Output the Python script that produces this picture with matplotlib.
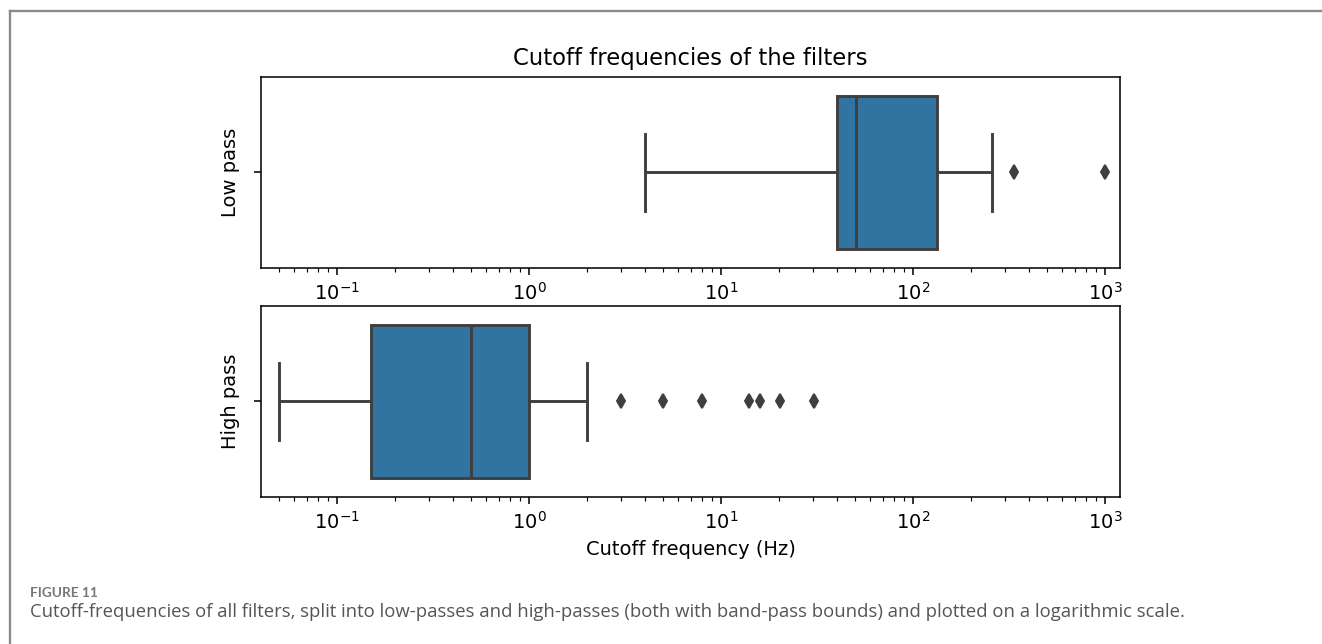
import numpy as np
import matplotlib
matplotlib.use('Agg')
import matplotlib.pyplot as plt
from matplotlib.lines import Line2D

# box statistics (Hz)
labels = ['Low pass', 'High pass']
q1 = [40, 0.15]
median = [50.5, 0.5]
q3 = [133, 1.0]
whislo = [4, 0.05]
whishi = [258, 2]
fliers = [[336, 1000], [3, 5, 8, 14, 16, 20.3, 30.5]]

box_color = '#3274a1'
edge_color = '#3f3f3f'

DPI = 140
fig = plt.figure(figsize=(1322 / DPI, 644 / DPI), dpi=DPI)

ax_low = fig.add_axes([0.1974, 0.5839, 0.6498, 0.2966])
ax_high = fig.add_axes([0.1974, 0.2283, 0.6498, 0.2966])

for i, ax in enumerate([ax_low, ax_high]):
    stats = [dict(q1=q1[i], med=median[i], q3=q3[i], whislo=whislo[i],
                  whishi=whishi[i], fliers=fliers[i], label='')]
    ax.bxp(stats, positions=[0], widths=0.8, vert=False, patch_artist=True,
           boxprops=dict(facecolor=box_color, edgecolor=edge_color, linewidth=1.5),
           medianprops=dict(color=edge_color, linewidth=1.5),
           whiskerprops=dict(color=edge_color, linewidth=1.5),
           capprops=dict(color=edge_color, linewidth=1.5),
           flierprops=dict(marker='d', markersize=5, markerfacecolor=edge_color,
                           markeredgecolor=edge_color, linestyle='none'))
    ax.set_xscale('log')
    ax.set_xlim(0.0402, 1197)
    ax.set_ylim(0.5, -0.5)
    ax.set_yticks([0])
    ax.set_yticklabels([''])
    ax.set_ylabel(labels[i])

ax_low.set_title('Cutoff frequencies of the filters', fontsize=11.7)
ax_high.set_xlabel('Cutoff frequency (Hz)')

# page frame and caption
fig.add_artist(Line2D([9.5 / 1322, 9.5 / 1322], [0, 1 - 10.5 / 644],
                      color='#8a8a8a', linewidth=1.2))
fig.add_artist(Line2D([9.5 / 1322, 1], [1 - 10.5 / 644, 1 - 10.5 / 644],
                      color='#8a8a8a', linewidth=1.2))
fig.text(30 / 1322, 1 - 593 / 644, 'FIGURE 11', fontsize=7, color='#777777',
         fontweight='bold', family='Lato', va='center', ha='left')
fig.text(30 / 1322, 1 - 612 / 644,
         'Cutoff-frequencies of all filters, split into low-passes and high-passes '
         '(both with band-pass bounds) and plotted on a logarithmic scale.',
         fontsize=9.5, color='#555555', family='Open Sans', va='center', ha='left')

fig.savefig('out.png', dpi=DPI)
